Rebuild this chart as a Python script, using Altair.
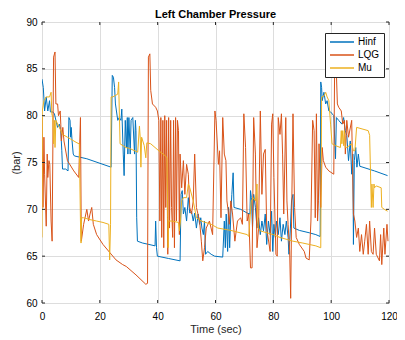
import altair as alt
import pandas as pd

# ---- data ----
hinf_t = [0, 0.45, 0.9, 1.46, 2.0, 2.6, 2.9, 3.7, 4.3, 4.8, 5.4, 6.0, 6.5, 6.85, 7.1, 8.2, 9.0, 9.3, 9.7, 9.9,
          10.1, 10.4, 10.8, 11.2, 15.5, 21.1, 23.9, 24.3, 24.7, 25.1, 25.4, 26.2, 26.7, 27.3, 27.6, 28.1, 28.4,
          28.8, 29.2, 29.5, 29.7, 30.05, 30.5, 30.8, 31.4, 32.0, 32.3, 32.5, 32.75, 33.0, 34.8, 37.0, 39.1, 39.3,
          39.6, 39.9, 43.8, 47.75, 48.1, 48.5, 48.9, 49.4, 50.0, 50.6, 51.1, 51.7, 52.3, 52.8, 53.4, 54.0, 54.5,
          54.9, 55.3, 55.8, 56.2, 56.55, 57.3, 58.5, 59.7, 62.5, 63.05, 63.4, 63.7, 64.2, 64.5, 64.9, 65.3, 65.65,
          66.1, 66.4, 68.7, 71.0, 71.9, 72.1, 72.4, 72.8, 73.2, 73.8, 74.35, 74.9, 75.5, 76.05, 76.6, 77.2, 77.7,
          78.3, 78.9, 79.4, 79.8, 80.2, 80.7, 81.1, 81.7, 82.3, 82.8, 83.4, 84.0, 84.5, 85.1, 85.4, 85.9, 86.3,
          86.8, 87.1, 89.0, 92.4, 94.7, 96.2, 96.4, 96.7, 96.9, 97.5, 98.1, 98.6, 99.2, 99.8, 100.9, 101.5, 101.8,
          102.6, 103.7, 104.3, 104.9, 105.4, 106.0, 106.6, 107.1, 107.5, 107.7, 108.0, 108.5, 108.9, 109.4, 109.9,
          115.0, 119.5]
hinf_v = [83.9, 83.0, 80.5, 82.0, 80.5, 81.6, 80.4, 80.4, 80.2, 79.5, 78.75, 79.1, 78.4, 76.25, 74.3, 74.3, 74.1,
          79.8, 79.5, 77.7, 78.75, 77.3, 75.9, 75.7, 75.4, 74.8, 74.5, 84.3, 84.1, 83.0, 81.25, 79.5, 79.8, 79.5,
          80.7, 75.9, 73.6, 79.5, 76.6, 79.8, 75.9, 79.8, 75.9, 79.5, 79.8, 75.9, 79.5, 78.4, 69.1, 66.6, 66.4,
          66.25, 66.1, 68.75, 65.9, 65.0, 64.75, 64.5, 71.6, 72.0, 69.5, 70.2, 68.75, 71.25, 69.6, 69.8, 68.75,
          69.6, 68.0, 69.5, 68.4, 69.1, 68.0, 67.3, 68.75, 65.2, 65.5, 65.2, 65.0, 64.9, 68.75, 65.9, 69.5, 65.5,
          70.2, 65.9, 69.5, 71.6, 73.9, 70.2, 70.0, 69.6, 69.5, 72.0, 71.25, 68.0, 71.6, 70.2, 68.0, 69.1, 67.3,
          68.75, 67.7, 69.5, 66.25, 68.75, 67.3, 69.8, 65.5, 68.4, 67.0, 68.75, 67.3, 69.1, 66.6, 68.4, 67.3,
          68.75, 67.0, 65.2, 68.0, 70.9, 71.6, 68.0, 67.75, 67.5, 67.3, 67.1, 83.6, 83.0, 81.6, 82.5, 81.25, 81.6,
          80.5, 80.4, 80.0, 75.4, 79.8, 79.5, 79.1, 79.8, 78.4, 77.9, 75.2, 77.3, 73.75, 75.9, 66.25, 75.2, 76.6,
          74.5, 75.9, 74.6, 74.1, 73.6]

lqg_t = [0, 0.34, 0.67, 0.9, 1.46, 1.8, 2.0, 2.4, 2.7, 3.15, 3.5, 4.0, 4.5, 4.8, 5.4, 5.7, 6.3, 6.5, 6.7, 7.2,
         7.6, 8.8, 11.0, 12.7, 13.3, 13.6, 14.4, 15.5, 16.1, 16.6, 17.2, 17.75, 18.9, 21.1, 23.4, 25.6, 27.9,
         29.15, 32.5, 35.9, 36.5, 36.8, 37.3, 37.6, 38.2, 39.3, 39.9, 40.4, 40.76, 41.1, 41.4, 41.8, 42.1, 42.45,
         42.8, 43.1, 43.5, 43.8, 44.1, 44.5, 44.8, 45.2, 45.5, 45.8, 46.2, 46.5, 46.85, 47.2, 47.5, 47.75, 48.3,
         48.9, 49.4, 50.0, 50.6, 51.1, 51.7, 52.3, 52.8, 53.4, 54.5, 55.1, 55.6, 56.2, 56.8, 57.9, 59.0, 59.8,
         60.2, 61.0, 61.4, 61.9, 62.5, 63.05, 63.6, 63.95, 64.4, 64.75, 65.3, 65.9, 66.7, 67.6, 68.7, 69.3, 69.8,
         70.4, 70.95, 71.5, 72.1, 72.65, 73.2, 73.8, 74.35, 74.9, 75.5, 76.05, 76.6, 77.2, 77.7, 78.9, 79.4, 79.8,
         80.2, 80.9, 81.35, 81.7, 82.3, 82.8, 83.2, 83.6, 84.3, 84.7, 85.1, 85.65, 86.0, 86.3, 86.8, 87.35, 87.9,
         89.0, 90.7, 91.3, 92.4, 93.0, 93.6, 94.1, 94.5, 94.9, 95.3, 95.6, 95.8, 96.4, 96.9, 97.3, 98.1, 99.2,
         100.9, 101.2, 101.7, 102.15, 102.6, 103.5, 104.0, 104.6, 104.9, 105.4, 106.0, 107.1, 107.7, 108.2, 108.8,
         109.4, 109.9, 110.5, 111.1, 111.6, 112.2, 112.8, 113.3, 113.9, 114.5, 115.0, 115.6, 116.7, 117.1, 117.5,
         118.2, 118.6, 119.3, 119.65]
lqg_v = [79.8, 70.2, 77.7, 73.75, 68.2, 75.9, 73.4, 75.2, 74.8, 68.75, 66.6, 86.25, 86.8, 81.25, 81.25, 80.0,
         80.5, 79.1, 77.3, 78.75, 77.3, 75.2, 74.1, 73.4, 79.8, 66.6, 68.4, 70.0, 68.75, 69.5, 70.2, 68.4, 67.3,
         66.25, 65.4, 64.6, 64.1, 63.9, 63.0, 62.0, 62.1, 86.25, 86.6, 82.7, 81.25, 80.9, 80.5, 79.5, 68.75, 79.8,
         67.0, 79.5, 65.9, 80.0, 70.2, 79.5, 65.2, 79.8, 68.0, 79.5, 70.2, 67.0, 79.5, 65.9, 79.8, 68.75, 79.5,
         78.4, 67.3, 75.9, 72.3, 75.2, 71.6, 74.8, 73.75, 70.2, 69.5, 70.9, 75.9, 70.2, 68.75, 66.6, 64.5, 65.9,
         68.0, 68.75, 67.3, 80.5, 79.5, 74.8, 76.25, 69.1, 79.8, 75.9, 75.2, 70.9, 69.8, 68.4, 70.9, 69.5, 66.6,
         68.75, 69.1, 68.4, 80.2, 76.6, 68.75, 69.5, 63.75, 63.75, 79.8, 75.9, 65.9, 68.0, 80.5, 71.6, 75.9, 76.4,
         68.0, 65.5, 79.1, 80.2, 73.4, 65.2, 65.0, 79.8, 78.0, 80.2, 75.9, 69.5, 79.8, 70.9, 68.4, 65.5, 60.5,
         68.75, 80.2, 70.2, 67.0, 66.25, 65.5, 64.8, 64.6, 68.75, 79.5, 78.4, 69.1, 80.2, 68.75, 70.9, 77.0, 70.2,
         76.6, 75.2, 74.5, 74.1, 73.75, 85.2, 85.5, 81.25, 80.9, 80.5, 79.1, 79.5, 75.9, 79.5, 77.7, 79.5, 69.5,
         68.75, 67.0, 68.0, 65.5, 67.3, 65.2, 66.6, 68.4, 65.2, 68.75, 65.5, 65.2, 68.0, 65.2, 64.5, 67.3, 64.1,
         68.0, 65.2, 68.4, 66.6]

mu_t = [0, 0.1, 0.67, 1.46, 2.6, 3.15, 3.4, 3.7, 4.0, 4.3, 4.5, 4.8, 5.4, 6.0, 7.1, 8.8, 9.9, 12.1, 12.9, 13.3,
        13.5, 13.7, 14.4, 16.6, 18.9, 21.1, 23.1, 23.4, 23.7, 23.9, 24.5, 26.2, 26.5, 27.0, 29.0, 30.3, 33.1,
        33.7, 34.0, 34.2, 34.45, 35.35, 35.9, 36.25, 37.6, 40.4, 42.7, 43.2, 43.5, 43.6, 43.8, 44.9, 47.2, 47.5,
        47.9, 48.3, 48.9, 50.0, 50.6, 51.1, 52.3, 53.4, 55.1, 58.5, 60.8, 65.3, 71.0, 71.5, 72.1, 72.4, 73.0,
        73.8, 74.35, 74.7, 75.5, 80.0, 82.3, 86.8, 90.2, 94.7, 96.4, 96.7, 97.5, 98.1, 98.6, 99.2, 99.8, 100.3,
        101.5, 103.2, 103.5, 103.7, 104.0, 104.3, 104.6, 104.9, 105.4, 107.1, 107.7, 108.2, 108.8, 112.8, 113.3,
        113.7, 113.9, 114.1, 114.5, 114.8, 115.0, 115.6, 117.3, 117.5, 118.4, 119.5]
mu_v = [67.0, 80.5, 81.6, 82.0, 82.0, 82.5, 80.2, 79.8, 77.0, 79.5, 76.6, 79.5, 79.1, 78.75, 78.0, 77.7, 77.5,
        77.1, 77.0, 68.75, 66.4, 69.1, 69.1, 68.9, 68.75, 68.6, 68.4, 64.6, 68.4, 82.0, 82.0, 82.3, 83.6, 77.0,
        76.6, 76.5, 76.1, 78.9, 77.5, 74.5, 77.7, 76.8, 75.5, 77.1, 77.0, 76.25, 75.7, 75.5, 69.1, 65.9, 68.75,
        68.75, 68.6, 67.7, 68.75, 70.9, 71.25, 71.25, 72.7, 72.3, 70.9, 69.1, 68.75, 68.4, 68.0, 67.75, 67.3,
        67.1, 69.8, 70.9, 71.25, 70.9, 72.7, 68.0, 67.7, 67.3, 67.0, 66.6, 66.4, 66.1, 65.9, 82.0, 82.1, 82.5,
        82.0, 81.6, 79.1, 77.0, 76.8, 76.6, 78.4, 77.0, 78.4, 76.8, 78.4, 76.6, 76.6, 77.0, 76.25, 76.25, 78.75,
        78.4, 77.9, 72.7, 70.2, 72.7, 70.2, 72.7, 72.3, 72.5, 72.3, 70.2, 70.0, 69.8]

series_names = ["Hinf", "LQG", "Mu"]
series_colors = ["#0072BD", "#D95319", "#EDB120"]
x_ticks = [0, 20, 40, 60, 80, 100, 120]
y_ticks = [60, 65, 70, 75, 80, 85, 90]

W, H = 347, 281
FONT = "Liberation Sans"
INK = "#262626"


def frame(name, ts, vs):
    return pd.DataFrame({"t": ts, "v": vs, "series": name, "i": range(len(ts))})


dfs = [frame("Hinf", hinf_t, hinf_v), frame("LQG", lqg_t, lqg_v), frame("Mu", mu_t, mu_v)]

xscale = alt.Scale(domain=[0, 120], nice=False, zero=False)
yscale = alt.Scale(domain=[60, 90], nice=False, zero=False)
color = alt.Color(
    "series:N",
    scale=alt.Scale(domain=series_names, range=series_colors),
    legend=alt.Legend(
        title=None, orient="none", legendX=W - 64, legendY=11,
        symbolType="stroke", symbolSize=576, symbolStrokeWidth=1.5, clipHeight=10,
        labelFont=FONT, labelFontSize=10, labelColor="#000000", labelOffset=3,
        padding=4, rowPadding=3, strokeColor=INK, fillColor="#ffffff",
    ),
)

x_axis = alt.Axis(values=x_ticks, title="Time (sec)", grid=True, ticks=False, domain=False,
                  labelFlush=False, labelPadding=8, titlePadding=2,
                  titleFontWeight="normal", titleFont=FONT, titleFontSize=11, titleColor=INK)
y_axis = alt.Axis(values=y_ticks, title="(bar)", grid=True, ticks=False, domain=False,
                  labelFlush=False, labelPadding=5, titlePadding=4,
                  titleFontWeight="normal", titleFont=FONT, titleFontSize=11, titleColor=INK)

layers = []
for k, df in enumerate(dfs):
    if k == 0:
        xe = alt.X("t:Q", scale=xscale, axis=x_axis)
        ye = alt.Y("v:Q", scale=yscale, axis=y_axis)
    else:
        xe = alt.X("t:Q", scale=xscale)
        ye = alt.Y("v:Q", scale=yscale)
    layers.append(
        alt.Chart(df).mark_line(strokeWidth=1, clip=True).encode(
            x=xe, y=ye, color=color, order=alt.Order("i:Q")
        )
    )

# inward tick marks on all four sides
xt = pd.DataFrame({"tick": x_ticks})
yt = pd.DataFrame({"tick": y_ticks})
tick_bottom = alt.Chart(xt).mark_rule(color=INK, strokeWidth=1).encode(
    x=alt.X("tick:Q", scale=xscale), y=alt.value(H), y2=alt.value(H - 3))
tick_top = alt.Chart(xt).mark_rule(color=INK, strokeWidth=1).encode(
    x=alt.X("tick:Q", scale=xscale), y=alt.value(0), y2=alt.value(3))
tick_left = alt.Chart(yt).mark_rule(color=INK, strokeWidth=1).encode(
    y=alt.Y("tick:Q", scale=yscale), x=alt.value(0), x2=alt.value(3))
tick_right = alt.Chart(yt).mark_rule(color=INK, strokeWidth=1).encode(
    y=alt.Y("tick:Q", scale=yscale), x=alt.value(W), x2=alt.value(W - 3))

chart = alt.layer(*layers, tick_bottom, tick_top, tick_left, tick_right).properties(
    width=W, height=H,
    title=alt.TitleParams("Left Chamber Pressure", font=FONT, fontSize=11, fontWeight="bold",
                          color="#000000", anchor="middle", offset=-3),
    autosize=alt.AutoSizeParams(type="none"),
    padding={"left": 34, "top": 14, "right": 8, "bottom": 33},
).configure_view(
    stroke=INK, strokeWidth=1
).configure_axis(
    labelFont=FONT, labelFontSize=10, labelColor=INK,
    titleFont=FONT, titleFontSize=11, titleColor=INK, titleFontWeight="normal",
    gridColor="#e3e3e3", gridWidth=1,
).configure(background="#ffffff")

chart.save("out.html", embed_options={"renderer": "svg", "actions": False})
